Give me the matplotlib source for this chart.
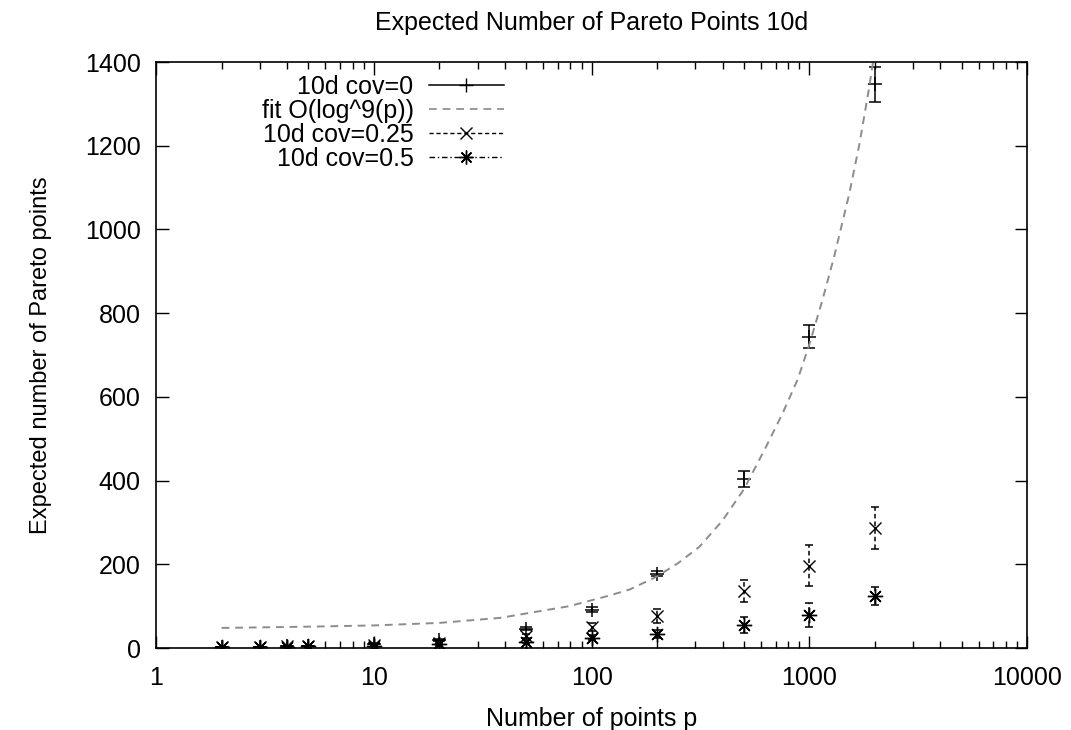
import numpy as np
import matplotlib
matplotlib.use("Agg")
import matplotlib.pyplot as plt
from matplotlib.lines import Line2D
from matplotlib.ticker import LogLocator, FixedLocator, NullFormatter

plt.rcParams["font.family"] = ["Liberation Sans", "DejaVu Sans"]

# Data
p = [2, 3, 4, 5, 10, 20, 50, 100, 200, 500, 1000, 2000]

cov0 = [2, 3, 4, 5, 10, 19, 46, 91, 178, 404, 744, 1347]
cov0_err = [0.2, 0.3, 0.4, 0.5, 1, 2, 4, 6, 7, 20, 27, 42]

cov25 = [2, 3, 3.8, 4.6, 8, 13, 29, 50, 77, 137, 197, 287]
cov25_err = [0.3, 0.4, 0.5, 0.6, 1.5, 3, 5, 9, 17, 26, 49, 51]

cov50 = [1.8, 2.6, 3.3, 3.9, 6, 9, 15, 25, 33, 55, 79, 124]
cov50_err = [0.3, 0.4, 0.5, 0.6, 1.5, 3, 4, 5, 9, 18, 28, 22]

# fitted curve
fit_p = [2, 5, 10, 20, 38, 79, 120, 150, 198, 250, 313, 400, 503, 633, 754,
         883, 1000, 1148, 1300, 1525, 1700, 1884, 2000]
fit_y = [48, 51, 54, 60, 72, 100, 125, 140, 170, 203, 242, 305, 381, 481, 561,
         641, 725, 831, 935, 1085, 1205, 1340, 1430]

fig = plt.figure(figsize=(10.71, 7.30), dpi=100)
ax = fig.add_axes([0.1457, 0.1123, 0.8133, 0.8027])

fs = 18

# series
ax.errorbar(p, cov0, yerr=cov0_err, fmt="none", ecolor="black",
            elinewidth=1.1, capsize=4, capthick=1.1)
ax.plot(p, cov0, linestyle="none", marker="+", color="black",
        markersize=10, markeredgewidth=1.1)

ax.plot(fit_p, fit_y, linestyle=(0, (4, 3)), color="#8c8c8c", linewidth=1.4)

e25 = ax.errorbar(p, cov25, yerr=cov25_err, fmt="none", ecolor="black",
                  elinewidth=1.1, capsize=3, capthick=1.1)
e25[2][0].set_linestyle((0, (3, 2)))
ax.plot(p, cov25, linestyle="none", marker="x", color="black",
        markersize=9, markeredgewidth=1.0)

e50 = ax.errorbar(p, cov50, yerr=cov50_err, fmt="none", ecolor="black",
                  elinewidth=1.1, capsize=3, capthick=1.1)
e50[2][0].set_linestyle((0, (4, 2, 1, 2)))
ax.plot(p, cov50, linestyle="none", marker=(8, 2, 0), color="black",
        markersize=11, markeredgewidth=1.0)

# legend proxies
h0 = Line2D([], [], color="black", linewidth=1.1, marker="+", markersize=10,
            markevery=[1])
hfit = Line2D([], [], color="#9a9a9a", linewidth=1.4, linestyle=(0, (4, 3)))
h25 = Line2D([], [], color="black", linewidth=1.0, linestyle=(0, (3, 2)),
             marker="x", markersize=8, markevery=[1])
h50 = Line2D([], [], color="black", linewidth=1.0, linestyle=(0, (4, 2, 1, 2)),
             marker=(8, 2, 0), markersize=10, markevery=[1])

leg = ax.legend([h0, hfit, h25, h50],
                ["10d cov=0", "fit O(log^9(p))", "10d cov=0.25", "10d cov=0.5"],
                loc="upper right", bbox_to_anchor=(0.399, 0.978), frameon=False,
                markerfirst=False, handlelength=3.0, handletextpad=0.6,
                labelspacing=0.0, fontsize=fs, borderaxespad=0.0, borderpad=0.0)
for col in leg._legend_handle_box.get_children():
    col.align = "right"

# axes
ax.set_xscale("log")
ax.set_xlim(1, 10000)
ax.set_ylim(0, 1400)
ax.xaxis.set_minor_locator(LogLocator(base=10, subs=np.arange(2, 10), numticks=50))
ax.xaxis.set_minor_formatter(NullFormatter())
ax.set_xticks([1, 10, 100, 1000, 10000])
ax.set_xticklabels(["1", "10", "100", "1000", "10000"])
ax.yaxis.set_major_locator(FixedLocator(range(0, 1401, 200)))

ax.tick_params(axis="both", which="both", direction="in", top=True, right=True,
               labelsize=fs, colors="black")
ax.tick_params(which="major", length=9, width=1)
ax.tick_params(axis="x", which="major", pad=13)
ax.tick_params(axis="y", which="major", pad=11)
ax.tick_params(which="minor", length=5, width=1)
for s in ax.spines.values():
    s.set_linewidth(1.2)

ax.set_title("Expected Number of Pareto Points 10d", fontsize=fs, pad=23)
ax.set_xlabel("Number of points p", fontsize=fs, labelpad=12)
ax.set_ylabel("Expected number of Pareto points", fontsize=17, labelpad=24)

fig.savefig("out.png", dpi=100)
